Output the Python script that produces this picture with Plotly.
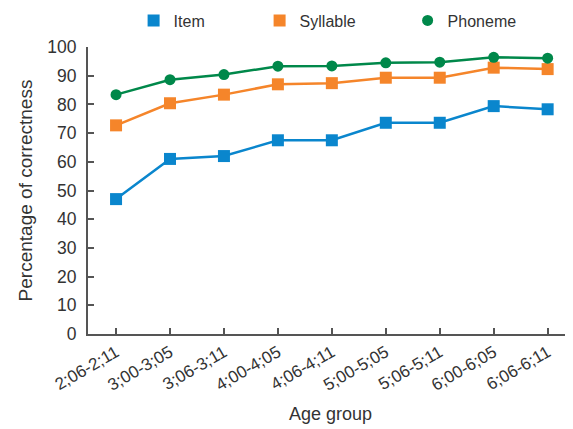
import plotly.graph_objects as go

age_groups = ["2;06-2;11", "3;00-3;05", "3;06-3;11", "4;00-4;05", "4;06-4;11",
              "5;00-5;05", "5;06-5;11", "6;00-6;05", "6;06-6;11"]
item = [47, 61, 62, 67.5, 67.5, 73.6, 73.6, 79.4, 78.3]
syllable = [72.7, 80.4, 83.4, 87.0, 87.4, 89.3, 89.3, 92.8, 92.3]
phoneme = [83.4, 88.6, 90.4, 93.3, 93.4, 94.5, 94.7, 96.4, 96.1]
yticks = [0, 10, 20, 30, 40, 50, 60, 70, 80, 90, 100]

series = [
    ("Item", item, "#0a86cd", "square", 12),
    ("Syllable", syllable, "#f5852a", "square", 12),
    ("Phoneme", phoneme, "#00884a", "circle", 11),
]
legend_x = [0.2223, 0.4453, 0.7073]

W, H = 565, 421  # page body margin of 8px offsets the figure
FONT = "Liberation Sans, Arial, sans-serif"
fig = go.Figure()
for i, (name, vals, col, sym, sz) in enumerate(series):
    fig.add_trace(go.Scatter(
        x=age_groups, y=vals, mode="lines+markers", name=name,
        line=dict(color=col, width=2.5),
        marker=dict(symbol=sym, size=sz, color=col),
        showlegend=False, cliponaxis=False))
for i, (name, vals, col, sym, sz) in enumerate(series):
    lg = "legend" if i == 0 else f"legend{i+1}"
    fig.add_trace(go.Scatter(
        x=[None], y=[None], mode="markers", name=name,
        marker=dict(symbol=sym, size=sz, color=col),
        legend=lg, showlegend=True))

leg_common = dict(orientation="h", xref="container", yref="container",
                  yanchor="middle", y=1 - 12.5 / H, itemwidth=30,
                  font=dict(family=FONT, size=16, color="#333333"),
                  bgcolor="rgba(0,0,0,0)")
fig.update_layout(
    width=W, height=H,
    margin=dict(l=80, r=0, t=39, b=95),
    paper_bgcolor="white", plot_bgcolor="white",
    font=dict(family=FONT, size=17, color="#333333"),
    legend=dict(x=legend_x[0], **leg_common),
    legend2=dict(x=legend_x[1], **leg_common),
    legend3=dict(x=legend_x[2], **leg_common),
    xaxis=dict(
        type="category", range=[-0.52, 8.47], automargin=False,
        showline=True, linecolor="#555555", linewidth=2,
        ticks="inside", ticklen=6, tickcolor="#555555", tickwidth=1.5,
        tickangle=-30, tickfont=dict(family=FONT, size=17, color="#333333"),
        showgrid=False, zeroline=False,
        title=dict(text="Age group", font=dict(family=FONT, size=18, color="#333333"), standoff=14),
    ),
    yaxis=dict(
        range=[0, 100], tickvals=yticks, automargin=False,
        showline=True, linecolor="#555555", linewidth=2,
        ticks="inside", ticklen=6, tickcolor="#555555", tickwidth=1.5,
        tickfont=dict(family=FONT, size=17.5, color="#333333"),
        ticklabelstandoff=6,
        showgrid=False, zeroline=False,
        title=dict(text="Percentage of correctness", font=dict(family=FONT, size=19, color="#333333"), standoff=10),
    ),
)
fig.write_html("out.html")
